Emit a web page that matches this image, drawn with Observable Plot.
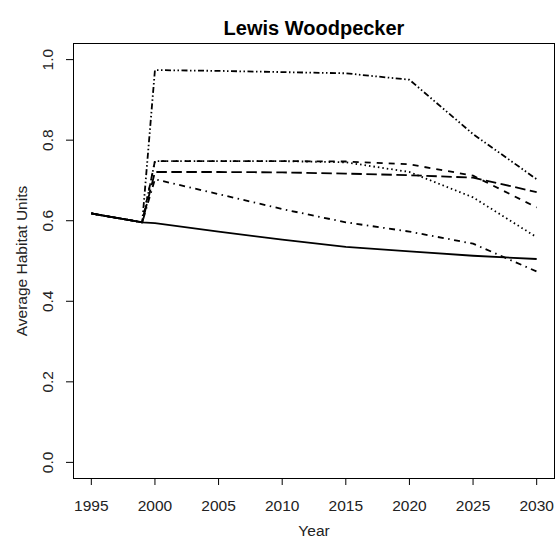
<!DOCTYPE html>
<html>
<head>
<meta charset="utf-8">
<script src="https://cdn.jsdelivr.net/npm/d3@7"></script>
<script src="https://cdn.jsdelivr.net/npm/@observablehq/plot@0.6"></script>
<style>
  html, body { margin: 0; padding: 0; background: #fff; }
</style>
</head>
<body>
<div id="chart"></div>
<script>
const title = "Lewis Woodpecker";
const xTitle = "Year";
const yTitle = "Average Habitat Units";

const years = [1995, 1999, 2000, 2005, 2010, 2015, 2020, 2025, 2030];
const baseline = [0.618, 0.596, 0.594, 0.573, 0.553, 0.535, 0.524, 0.513, 0.505];
const dashed   = [0.618, 0.596, 0.748, 0.748, 0.748, 0.747, 0.740, 0.712, 0.633];
const dotted   = [0.618, 0.596, 0.748, 0.748, 0.748, 0.745, 0.721, 0.658, 0.559];
const longdash = [0.618, 0.596, 0.721, 0.721, 0.720, 0.717, 0.713, 0.707, 0.671];
const dotdash  = [0.618, 0.596, 0.703, 0.666, 0.629, 0.596, 0.573, 0.543, 0.474];
const twodash  = [0.618, 0.596, 0.974, 0.972, 0.969, 0.966, 0.950, 0.815, 0.703];

const xTicks = [1995, 2000, 2005, 2010, 2015, 2020, 2025, 2030];
const yTicks = [0.0, 0.2, 0.4, 0.6, 0.8, 1.0];

const series = [
  {name: "baseline", values: baseline, dash: null},
  {name: "dotdash", values: dotdash, dash: "1.5,4.5,6,4.5"},
  {name: "longdash", values: longdash, dash: "10.5,4.5"},
  {name: "dotted", values: dotted, dash: "1.5,3"},
  {name: "dashed", values: dashed, dash: "6,6"},
  {name: "twodash", values: twodash, dash: "6,2.5,1.5,2.5,1.5,2.5"}
];

const lineMarks = series.map(s =>
  Plot.line(years.map((yr, i) => ({year: yr, value: s.values[i]})), {
    x: "year", y: "value", stroke: "#000", strokeWidth: 1.8,
    strokeDasharray: s.dash ?? undefined, strokeLinejoin: "round", strokeLinecap: "butt"
  })
);

const chart = Plot.plot({
  width: 560,
  height: 546,
  marginLeft: 73,
  marginRight: 6,
  marginTop: 43,
  marginBottom: 68,
  style: {fontFamily: "'Liberation Sans', Arial, sans-serif", fontSize: "15.5px", color: "#222", background: "#fff"},
  x: {domain: [1993.6, 2031.4], label: null},
  y: {domain: [-0.04, 1.04], label: null},
  marks: [
    Plot.frame({stroke: "#000", strokeWidth: 1}),
    Plot.axisX(xTicks, {tickSize: 7, tickPadding: 14, tickFormat: d => String(d), label: null, stroke: "#000", fontSize: 15.5}),
    Plot.axisY(yTicks, {tickSize: 7, tickFormat: () => "", label: null, stroke: "#000"}),
    Plot.text(yTicks, {y: d => d, frameAnchor: "left", textAnchor: "middle", dx: -25, rotate: -90, text: d => d.toFixed(1), fill: "#222", fontSize: 15.5}),
    ...lineMarks,
    Plot.text([title], {frameAnchor: "top", dy: -23, fontWeight: "bold", fontSize: 20, fill: "#000"}),
    Plot.text([xTitle], {frameAnchor: "bottom", dy: 57, fill: "#222", fontSize: 15.5}),
    Plot.text([yTitle], {frameAnchor: "left", textAnchor: "middle", dx: -51, rotate: -90, fill: "#222", fontSize: 15.5})
  ]
});
document.getElementById("chart").appendChild(chart);
</script>
</body>
</html>
